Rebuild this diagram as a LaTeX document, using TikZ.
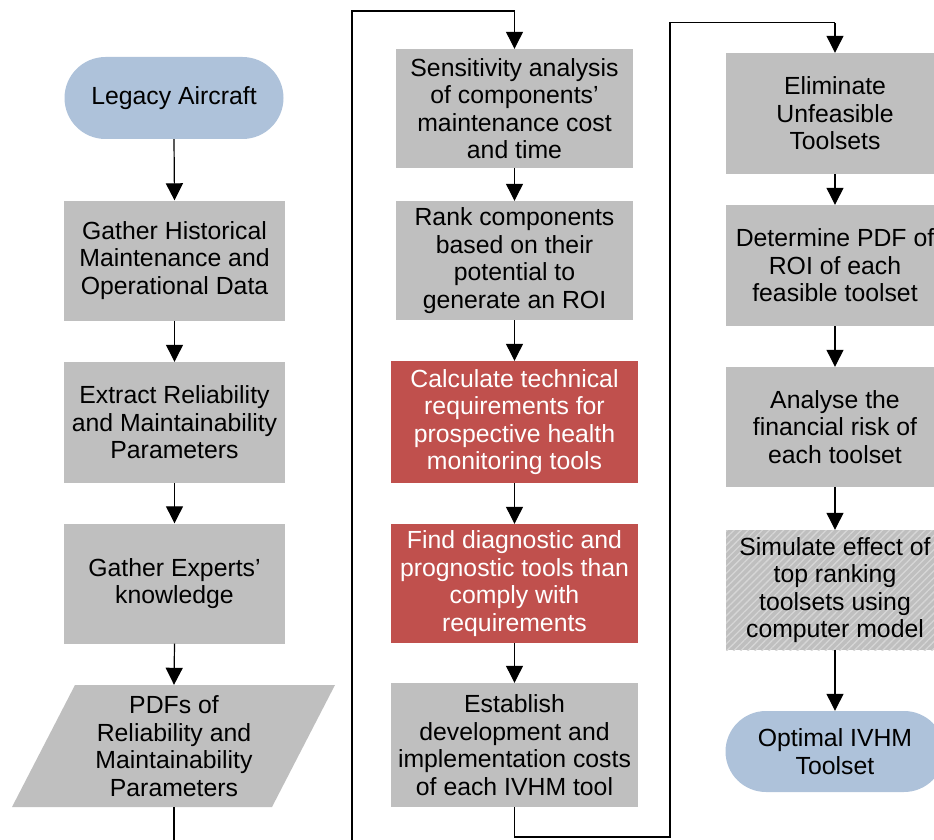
\documentclass[tikz,border=0pt]{standalone}
\usepackage{fontspec}
\setmainfont{Liberation Sans}
\usetikzlibrary{arrows.meta,shapes.misc,patterns.meta}
\definecolor{boxgray}{RGB}{191,191,191}
\definecolor{termblue}{RGB}{174,194,218}
\definecolor{keyred}{RGB}{192,80,77}
\definecolor{stripe}{RGB}{214,214,214}
\begin{document}
\begin{tikzpicture}[x=1pt,y=-1pt,
  base/.style={font=\fontsize{24.8}{27.5}\selectfont, align=center, inner sep=0pt, text=black},
  proc/.style={base, rectangle, fill=boxgray},
  keyproc/.style={base, rectangle, fill=keyred, text=white},
  term/.style={base, rounded rectangle, fill=termblue},
  flow/.style={draw=black, line width=1.2pt, -{Triangle[width=17pt,length=17pt]}},
  link/.style={draw=black, line width=1.2pt}
]
\clip (0,0) rectangle (934,840);

% --- first column: data gathering
\node[term, minimum width=219pt, minimum height=82pt] (legacy) at (174,98) {Legacy Aircraft};
\node[proc, minimum width=221pt, minimum height=120pt] (gh) at (174.5,260.5) {Gather Historical\\Maintenance and\\Operational Data};
\node[proc, minimum width=221pt, minimum height=121pt] (er) at (174.5,422.5) {Extract Reliability\\and Maintainability\\Parameters};
\node[proc, minimum width=221pt, minimum height=120pt] (ge) at (174.5,583.5) {Gather Experts’\\knowledge};
\fill[boxgray] (75,685) -- (335,685) -- (272,807) -- (12,807) -- cycle;
\node[base, minimum width=200pt, minimum height=122pt] (pdf) at (174,746) {PDFs of\\Reliability and\\Maintainability\\Parameters};

% --- second column: component ranking and tool costs
\node[proc, minimum width=237pt, minimum height=119pt] (sens) at (514.5,108.5) {Sensitivity analysis\\of components’\\maintenance cost\\and time};
\node[proc, minimum width=237pt, minimum height=119pt] (rank) at (514.5,260.5) {Rank components\\based on their\\potential to\\generate an ROI};
\node[keyproc, minimum width=247pt, minimum height=122pt] (calc) at (514.5,422) {Calculate technical\\requirements for\\prospective health\\monitoring tools};
\node[keyproc, minimum width=247pt, minimum height=119pt] (find) at (514.5,583.5) {Find diagnostic and\\prognostic tools than\\comply with\\requirements};
\node[proc, minimum width=247pt, minimum height=124pt] (est) at (514.5,745) {Establish\\development and\\implementation costs\\of each IVHM tool};

% --- third column: toolset selection
\node[proc, minimum width=218pt, minimum height=121pt] (elim) at (835,113.5) {Eliminate\\Unfeasible\\Toolsets};
\node[proc, minimum width=218pt, minimum height=121pt] (det) at (835,265.5) {Determine PDF of\\ROI of each\\feasible toolset};
\node[proc, minimum width=218pt, minimum height=120pt] (ana) at (835,427) {Analyse the\\financial risk of\\each toolset};
\node[proc, minimum width=218pt, minimum height=120pt,
      postaction={pattern={Lines[angle=45,distance=5pt,line width=1.3pt]}, pattern color=stripe}] (sim) at (835,590) {};
\node[base] (simtext) at (sim.center) {Simulate effect of\\top ranking\\toolsets using\\computer model};
\node[term, minimum width=219pt, minimum height=81pt] (opt) at (835,751.5) {Optimal IVHM\\Toolset};

% --- connectors, first column
\draw[flow] (legacy.south) -- (gh.north);
\draw[flow] (gh.south) -- (er.north);
\draw[flow] (er.south) -- (ge.north);
\draw[flow] (ge.south) -- (pdf.north);
\coordinate (out1) at (174,860);
\draw[link] (pdf.south) -- (out1);

% --- connectors, second column
\coordinate (in2) at (352,860);
\coordinate (top2) at (514.5,11);
\draw[link] (in2) |- (top2);
\draw[flow] (top2) -- (sens.north);
\draw[flow] (sens.south) -- (rank.north);
\draw[flow] (rank.south) -- (calc.north);
\draw[flow] (calc.south) -- (find.north);
\draw[flow] (find.south) -- (est.north);

% --- transfer to third column
\coordinate (bot2) at (514.5,837);
\coordinate (up3) at (670,837);
\coordinate (top3) at (835,22.7);
\draw[link] (est.south) -- (bot2) -- (up3) |- (top3);
\draw[flow] (top3) -- (elim.north);

% --- connectors, third column
\draw[flow] (elim.south) -- (det.north);
\draw[flow] (det.south) -- (ana.north);
\draw[flow] (ana.south) -- (sim.north);
\draw[flow] (sim.south) -- (opt.north);
\end{tikzpicture}
\end{document}
